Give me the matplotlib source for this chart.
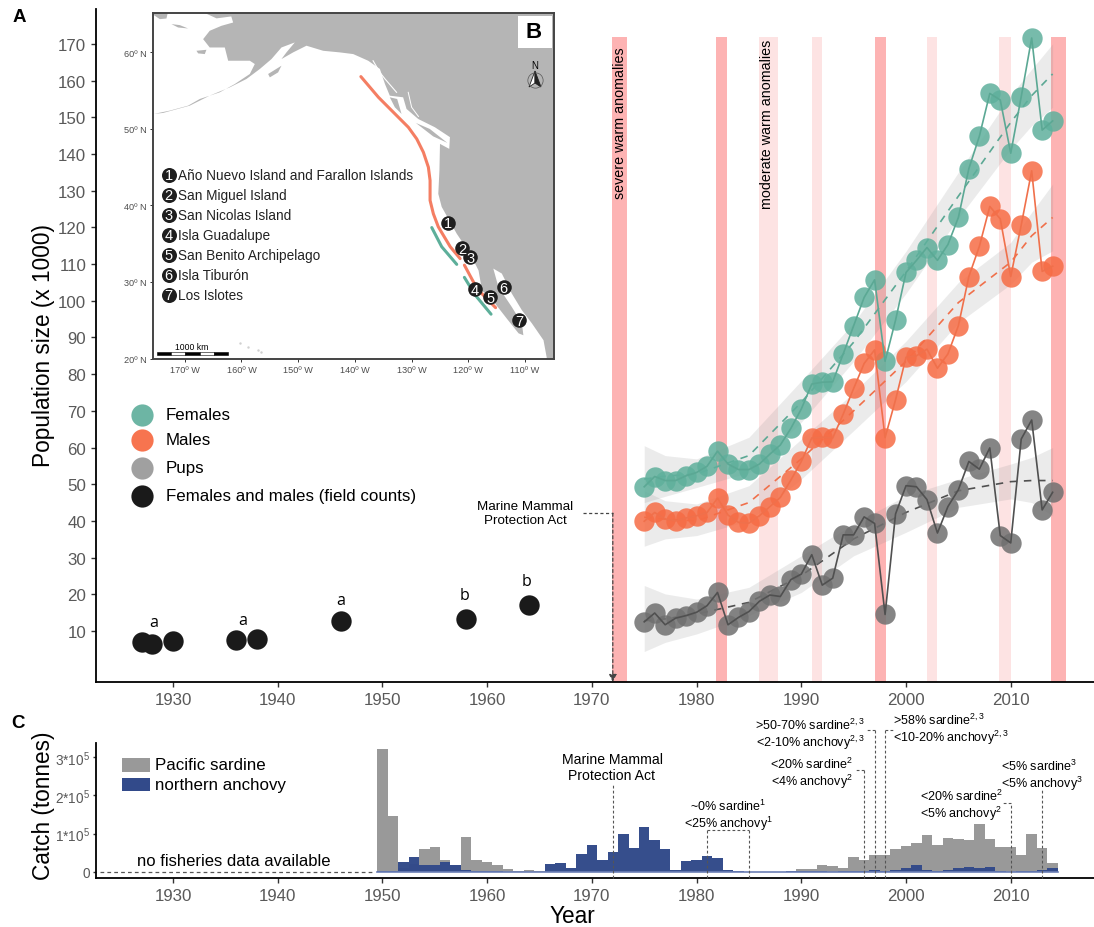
import matplotlib
matplotlib.use('Agg')
import matplotlib.pyplot as plt
from matplotlib.patches import Polygon, Rectangle

plt.rcParams['font.family'] = ['Liberation Sans', 'DejaVu Sans']
plt.rcParams['mathtext.fontset'] = 'custom'
plt.rcParams['mathtext.rm'] = 'Liberation Sans'
plt.rcParams['mathtext.default'] = 'regular'

# population series, x 1000
years = list(range(1975, 2015))
females = [49.3, 52.1, 51, 51, 52.3, 53.2, 54.9, 59, 55.5, 54, 54, 55.5, 58.2, 60.7, 65.2, 70.5, 77.3, 77.8, 77.9, 85.5,
           93.2, 100.9, 105.7, 83.5, 94.7, 107.7, 111, 114.5, 111, 115.3, 122.7, 136, 144.8, 156.5, 154.7, 140.2, 155.6, 171.6, 146.5, 149]
males = [39.9, 42.3, 40.5, 40, 40.8, 41.4, 42.3, 46.2, 41.6, 39.6, 39.4, 41.4, 43.9, 46.4, 51.1, 56.2, 62.6, 62.8, 62.6, 69.1,
         76.1, 82.9, 86.6, 62.7, 73, 84.6, 85, 86.8, 81.6, 85.5, 93.2, 106.6, 114.8, 125.7, 122.3, 106.6, 120.6, 135.4, 108, 109.4]
pups = [12.5, 14.9, 11.7, 13.5, 14.2, 15.1, 16.9, 20.5, 11.7, 13.7, 15.3, 18.1, 19.8, 19.4, 24, 25.5, 30.8, 22.5, 24.4, 36.2,
        36.2, 41.1, 39.3, 14.5, 41.9, 49.6, 49.3, 45.8, 36.7, 43.9, 48.5, 56.2, 54.1, 59.9, 36, 34, 62.3, 67.5, 43, 47.8]

field_years = [1927, 1928, 1930, 1936, 1938, 1946, 1958, 1964]
field_counts = [7, 6.5, 7.3, 7.5, 7.8, 12.7, 13.3, 17.1]
letter_years = [1928.2, 1936.7, 1946, 1957.8, 1963.8]
letter_vals = [12.5, 13, 18.4, 19.8, 23.6]
letters = ['a', 'a', 'a', 'b', 'b']

# smoothed trends and their bands
trend_years = [1975, 1977, 1980, 1985, 1990, 1995, 2000, 2005, 2010, 2012, 2014]
fem_trend = [51.4, 52.2, 52.8, 57.8, 72.3, 88.7, 108, 128.5, 148.6, 155.9, 161.8]
fem_hi = [60.5, 57.8, 56.9, 62.8, 78.2, 94, 113.5, 135, 156, 163.1, 170]
fem_lo = [45, 46.7, 49.1, 53.2, 66.9, 83.5, 102, 122.5, 141.3, 147.7, 152.7]
male_trend = [41, 40.5, 40, 45, 56.9, 70, 83.5, 99.5, 110.5, 117.7, 122.7]
male_hi = [48.2, 45.5, 44.6, 49.6, 62.3, 75, 89, 105, 115.9, 124.1, 131.8]
male_lo = [33.1, 35.1, 36, 40.1, 51.4, 64.6, 78, 94, 104.5, 110.5, 113.6]
pup_trend = [12.8, 13.3, 14.6, 17.8, 25.1, 35.1, 42.3, 48.2, 50.7, 51, 51]
pup_hi = [22.4, 20.1, 18.7, 21.9, 30.5, 39.2, 46.9, 51.4, 55.5, 57.3, 60]
pup_lo = [4.4, 6.9, 9.2, 14.2, 20.5, 30.5, 36.9, 43.7, 46, 45, 41.4]

severe = [(1971.9, 1973.35), (1981.9, 1982.9), (1997.0, 1998.1), (2013.8, 2015.3)]
moderate = [(1985.95, 1987.8), (1991, 1992), (2002, 2003), (2008.9, 2010)]

# catch, in units of 10^5 tonnes
catch_years = list(range(1950, 2015))
sardine = [3.2, 1.47, .1, .2, .6, .64, .3, .19, .92, .32, .25, .19, .07, .03, .05, .02,
           .005, .005, .005, .005, .005, .005, .005, .005, .005, .005, .005, .005, .005, .005, .005, .005, .005, .005, .005, .005, .005, .005, .005, .01,
           .07, .09, .17, .15, .11, .39, .32, .43, .43, .6, .67, .75, .96, .71, .88, .85, .83, 1.25, .86, .65, .65, .45, .98, .63, .23]
anchovy = [.02, .02, .25, .38, .19, .19, .25, .19, .05, .03, .02, .03, .005, .01, .01, .01,
           .21, .24, .1, .47, .69, .31, .53, .99, .63, 1.17, .82, .59, .04, .28, .3, .41, .36, .04, .03, .01, .005, .005, .005, .02,
           .03, .03, .03, .01, .02, .02, .02, .04, .02, .05, .11, .19, .05, .02, .06, .11, .13, .1, .13, .03, .01, .02, .02, .05, .1]

# map, lon / lat
land_lon = [-167.06, -164.4, -161.8, -161.47, -163.53, -165.6, -166.76, -165.6, -162.94, -162.35, -158.53, -157.65, -158.53, -161.18, -163.83, -167.35,
            -169.41, -172.64, -175.46, -173.82, -169.12, -165.59, -162.06, -159.12, -156.77, -154.71, -152.95, -150.6, -152.07, -152.95, -150.89, -148.54,
            -145.6, -142.66, -140.3, -137.66, -135.6, -134.7, -133.85, -131.5, -130.9, -128.84, -125.9, -123.25, -123.37, -125, -125.1, -125.3, -124.7,
            -122.05, -119.7, -118.2, -117.6, -115.3, -113.2, -111.15, -110.3, -110.55, -112.35, -114.7, -115.6,
            -114.1, -112.35, -110.55, -108.8, -106.75, -106.15, -104, -104]
land_lat = [65.3, 64.4, 64.65, 63.86, 63.43, 62.78, 61.69, 60.6, 60.6, 58.87, 58.87, 58.44, 57.14, 55.83, 54.75, 53.88,
            53.01, 52.36, 51.93, 52.06, 53.01, 54.32, 55.4, 56.49, 57.79, 59.09, 60.6, 61.26, 59.96, 59.09, 59.96, 60.83,
            60.17, 59.96, 59.74, 58.87, 57.8, 55.83, 54.31, 54.1, 52.58, 51.27, 50.19, 48.9, 47.37, 48.02, 44.55, 41.5, 39.8,
            36.3, 33.7, 31.5, 28.9, 27.2, 25.2, 23.3, 23.05, 24.6, 26.75, 29.35, 31.75,
            31.1, 28.5, 26.3, 24.6, 22.4, 20, 19.5, 65.3]
siberia_lon = [-175.6, -172.94, -173.23, -174.4, -175.6]
siberia_lat = [65.3, 65.3, 64.38, 64.3, 64.9]
lawrence_lon = [-172.35, -170.88, -169.41, -171.17]
lawrence_lat = [63.65, 63.52, 63.08, 63.21]
nunivak_lon = [-167.94, -166.18, -166.47, -167.64]
nunivak_lat = [60.17, 60.3, 59.74, 59.83]
kodiak_lon = [-155.3, -152.95, -153.54, -155]
kodiak_lat = [57.14, 58.22, 57.35, 56.7]
haida_lon = [-133.85, -132.55, -131.78, -132.96]
haida_lat = [54.1, 53.88, 51.93, 52.8]
vanc_lon = [-129.25, -126.8, -123.7, -126.2]
vanc_lat = [50.75, 49.97, 48.15, 49]
fjord_lon = [-136.8, -135.6, -134.7, -132.66]
fjord_lat = [58.87, 57.35, 56.5, 54.75]
fjord2_lon = [-130.6, -130, -128.8]
fjord2_lat = [54.75, 52.8, 51.6]
hawaii_lon = [-160.2, -158.8, -157.0, -156.5, -155.6]
hawaii_lat = [22.1, 21.5, 21.1, 20.8, 19.7]

north_lon = [-138.95, -135.85, -132.35, -130.58, -129.1, -127.93, -127.05, -126.75, -126.75, -126.17, -125.3, -123.2, -121.45]
north_lat = [56.8, 54.1, 51.5, 50.19, 48.67, 46.93, 44.98, 43.25, 40.65, 38.9, 37.2, 34.6, 33.05]
south_lon = [-120.7, -119.1, -117.65, -115.2]
south_lat = [32.2, 30, 28.5, 26.65]
green1_lon = [-126.45, -124.7, -122.05]
green1_lat = [37.1, 34.6, 32.3]
green2_lon = [-120.7, -118.8, -116]
green2_lat = [30.6, 28.3, 25.8]
site_lon = [-123.65, -121.15, -119.7, -118.9, -116.15, -113.75, -111.05]
site_lat = [37.75, 34.45, 33.2, 29.1, 28.05, 29.35, 25.0]
site_names = ['Año Nuevo Island and Farallon Islands', 'San Miguel Island', 'San Nicolas Island', 'Isla Guadalupe',
              'San Benito Archipelago', 'Isla Tiburón', 'Los Islotes']

W, H = 1094, 928
green, orange, grey = '#5FB09C', '#F66C45', '#707070'
tick_col = '#595959'


def px(x, y):
    return x / W, 1 - y / H


def make_axes(l, t, r, b):
    return fig.add_axes([l / W, 1 - b / H, (r - l) / W, (b - t) / H])


fig = plt.figure(figsize=(W / 100, H / 100), dpi=100)

# Panel A
ax = make_axes(96, 10, 1094, 683)
ax.set_xlim(1922.65, 2017.95)
ax.set_ylim(-3.9, 179.5)
for a, b in severe:
    ax.fill_between([a, b], -3.9, 171.9, color='#FDB3B3', lw=0, zorder=1)
for a, b in moderate:
    ax.fill_between([a, b], -3.9, 171.9, color='#FDE3E3', lw=0, zorder=1)

for vals, trend, hi, lo, col, line_col in [(females, fem_trend, fem_hi, fem_lo, green, '#5BA894'),
                                           (males, male_trend, male_hi, male_lo, orange, '#F0704B'),
                                           (pups, pup_trend, pup_hi, pup_lo, grey, '#505050')]:
    ax.fill_between(trend_years, lo, hi, color='#8C8C8C', alpha=0.17, lw=0, zorder=2)
    ax.plot(trend_years, trend, color=line_col, lw=1.2, dashes=(4.5, 4), zorder=3)
    ax.scatter(years, vals, s=215, color=col, alpha=0.85, linewidths=0, zorder=4)
    ax.plot(years, vals, color=line_col, lw=1.2, zorder=5)

ax.scatter(field_years, field_counts, s=215, color='#1A1A1A', linewidths=0, zorder=4)
for yr, val, letter in zip(letter_years, letter_vals, letters):
    ax.text(yr, val, letter, ha='center', va='center', fontsize=11.5, family=['Open Sans'], color='black')

ax.set_xticks(range(1930, 2011, 10))
ax.set_yticks(range(10, 171, 10))
ax.tick_params(axis='both', labelsize=12.2, labelcolor=tick_col, color='#333333', length=3.5, width=1)
for s in ['top', 'right']:
    ax.spines[s].set_visible(False)
for s in ['left', 'bottom']:
    ax.spines[s].set_linewidth(1.3)

fig.text(*px(44, 346), 'Population size (x 1000)', rotation=90, ha='center', va='center', fontsize=16.3)
fig.text(*px(620, 123), 'severe warm anomalies', rotation=90, ha='center', va='center', fontsize=10.3)
fig.text(*px(767, 124), 'moderate warm anomalies', rotation=90, ha='center', va='center', fontsize=10.3)

# Marine Mammal Protection Act arrow
ax.plot([1969.2, 1972], [42.1, 42.1], color='#444444', lw=0.9, ls=(0, (2.5, 2)), zorder=6)
ax.annotate('', xy=(1972, -3.9), xytext=(1972, 42.1),
            arrowprops=dict(arrowstyle='-|>', color='#444444', lw=0.9, ls=(0, (2.5, 2)), mutation_scale=11, shrinkA=0, shrinkB=0))
fig.text(*px(525, 514), 'Marine Mammal\nProtection Act', ha='center', va='center', fontsize=9.6, linespacing=1.3)

# legend
for yy, col, lab in [(416, '#6DB5A4', 'Females'), (441, '#F7744F', 'Males'), (469, '#A0A0A0', 'Pups'),
                     (497, '#1A1A1A', 'Females and males (field counts)')]:
    fig.add_artist(plt.Line2D([142 / W], [1 - yy / H], marker='o', ms=16, color=col, mew=0, ls='none'))
    fig.text(*px(166, yy), lab, va='center', fontsize=12.2)

# Panel C
axc = make_axes(96, 744, 1094, 879)
axc.set_xlim(1922.65, 2017.95)
axc.set_ylim(-0.157, 3.36)
axc.bar(catch_years, sardine, width=1, color='#999999', lw=0, zorder=2, clip_on=False)
axc.bar(catch_years, anchovy, width=1, color='#324A8A', lw=0, alpha=0.98, zorder=3)
axc.plot([1949.5, 2014.5], [0, 0], color='#6C7FB5', lw=1.2, zorder=4)
axc.plot([1923, 1949], [0, 0], color='#555555', lw=0.9, ls=(0, (3, 2.5)))
axc.set_xticks(range(1930, 2011, 10))
axc.set_yticks([0, 1, 2, 3])
axc.set_yticklabels(['0', '1*10$^5$', '2*10$^5$', '3*10$^5$'])
axc.tick_params(axis='x', labelsize=12.2, labelcolor=tick_col, color='#333333', length=3.5, width=1)
axc.tick_params(axis='y', labelsize=9.8, labelcolor=tick_col, color='#333333', length=2.5, width=1, pad=2)
for s in ['top', 'right']:
    axc.spines[s].set_visible(False)
for s in ['left', 'bottom']:
    axc.spines[s].set_linewidth(1.3)
fig.text(*px(572, 917), 'Year', ha='center', va='center', fontsize=16.3)
fig.text(*px(44, 806), 'Catch (tonnes)', rotation=90, ha='center', va='center', fontsize=16.3)
fig.text(*px(233.5, 862), 'no fisheries data available', fontsize=12, va='center', ha='center')

fig.add_artist(Rectangle((122 / W, 1 - 773 / H), 28 / W, 14 / H, transform=fig.transFigure, color='#999999', lw=0))
fig.add_artist(Rectangle((122 / W, 1 - 792 / H), 28 / W, 13 / H, transform=fig.transFigure, color='#324A8A', lw=0))
fig.text(*px(155, 765), 'Pacific sardine', va='center', fontsize=12.2)
fig.text(*px(155, 786), 'northern anchovy', va='center', fontsize=12.2)

# catch composition notes: leader year, leader top and label
dash = dict(color='#555555', lw=0.8, ls=(0, (2.5, 2)), clip_on=False)
tr = axc.get_xaxis_transform()


def leader(yr, top_y, to_x=None):
    # vertical dashed line from the axis up to pixel row top_y, with optional horizontal piece to pixel column to_x
    top = 1 - (top_y - 744) / (879 - 744)
    axc.plot([yr, yr], [0, top], transform=tr, zorder=6, **dash)
    if to_x is not None:
        xn = 1980 + (to_x - 696.7) / 10.47
        axc.plot([yr, xn], [top, top], transform=tr, zorder=6, **dash)


fs = 9
fig.text(*px(612, 768), 'Marine Mammal\nProtection Act', ha='center', va='center', fontsize=10.1, linespacing=1.12)
leader(1972, 785)
leader(1981, 831, 749)
leader(1985, 831)
fig.text(*px(728, 816), '~0% sardine$^1$\n<25% anchovy$^1$', ha='center', va='center', fontsize=fs, linespacing=1.1)
leader(1997, 731, 866)
fig.text(*px(865, 735), '>50-70% sardine$^{2,3}$\n<2-10% anchovy$^{2,3}$', ha='right', va='center', fontsize=fs, linespacing=1.1)
leader(1998, 731, 895)
fig.text(*px(893, 730), '>58% sardine$^{2,3}$\n<10-20% anchovy$^{2,3}$', ha='left', va='center', fontsize=fs, linespacing=1.1)
leader(1996, 771, 854)
fig.text(*px(853, 774), '<20% sardine$^2$\n<4% anchovy$^2$', ha='right', va='center', fontsize=fs, linespacing=1.1)
leader(2010, 804, 1003)
fig.text(*px(920, 806), '<20% sardine$^2$\n<5% anchovy$^2$', ha='left', va='center', fontsize=fs, linespacing=1.1)
leader(2013, 790)
fig.text(*px(1001, 776), '<5% sardine$^3$\n<5% anchovy$^3$', ha='left', va='center', fontsize=fs, linespacing=1.1)

# Panel B, map inset
m = make_axes(153, 14, 554, 360)
m.set_xlim(-175.6, -104.9)
m.set_ylim(19.95, 65.1)
m.set_facecolor('white')
land = '#B5B5B5'
for lons, lats in [(land_lon, land_lat), (siberia_lon, siberia_lat), (lawrence_lon, lawrence_lat),
                   (nunivak_lon, nunivak_lat), (kodiak_lon, kodiak_lat), (haida_lon, haida_lat), (vanc_lon, vanc_lat)]:
    m.add_patch(Polygon(list(zip(lons, lats)), closed=True, color=land, lw=0))
m.plot(fjord_lon, fjord_lat, color='white', lw=0.8)
m.plot(fjord2_lon, fjord2_lat, color='white', lw=0.7)
m.scatter(hawaii_lon, hawaii_lat, s=3, color='#D0D0D0', lw=0)
for lons, lats, col in [(north_lon, north_lat, '#F47E63'), (south_lon, south_lat, '#F47E63'),
                        (green1_lon, green1_lat, '#5DAF9A'), (green2_lon, green2_lat, '#5DAF9A')]:
    m.plot(lons, lats, color=col, lw=2.2, solid_capstyle='round', solid_joinstyle='round')
m.set_xticks(range(-170, -109, 10))
m.set_xticklabels([f'{abs(v)}º W' for v in range(-170, -109, 10)])
m.set_yticks(range(20, 61, 10))
m.set_yticklabels([f'{v}º N' for v in range(20, 61, 10)])
m.tick_params(labelsize=6.6, labelcolor='#4D4D4D', color='#333333', length=2.5, width=0.7, pad=2)
for s in m.spines.values():
    s.set_linewidth(1.4)
    s.set_color('#444444')

for i, (lo, la) in enumerate(zip(site_lon, site_lat)):
    m.scatter([lo], [la], s=110, color='#1E1E1E', lw=0, zorder=5)
    m.text(lo, la - 0.1, str(i + 1), color='white', fontsize=10.5, ha='center', va='center', zorder=6)
for i, (yy, name) in enumerate(zip([176, 196, 216, 236, 256, 276, 296], site_names)):
    fig.add_artist(plt.Line2D([168.7 / W], [1 - yy / H], marker='o', ms=10.8, color='#1E1E1E', mew=0, ls='none'))
    fig.text(*px(168.7, yy), str(i + 1), color='white', fontsize=10.5, ha='center', va='center')
    fig.text(*px(178, yy), name, fontsize=9.8, color='#222222', va='center')

# scale bar
for i in range(5):
    fig.add_artist(Rectangle(((157 + i * 14.2) / W, 1 - 356 / H), 14.2 / W, 3.5 / H, transform=fig.transFigure,
                             facecolor='black' if i % 2 == 0 else 'white', edgecolor='black', lw=0.4))
fig.text(*px(192, 348), '1000 km', fontsize=6.2, ha='center', va='center')

# B label and north arrow
fig.add_artist(Rectangle((518 / W, 1 - 49 / H), 34 / W, 32 / H, transform=fig.transFigure, color='white', lw=0))
fig.text(*px(534, 33), 'B', fontsize=16, fontweight='bold', ha='center', va='center')
fig.text(*px(535, 66), 'N', fontsize=7, ha='center', va='center')
fig.add_artist(Polygon([(535 / W, 1 - 72 / H), (529 / W, 1 - 88 / H), (535 / W, 1 - 84 / H)], closed=True,
                       transform=fig.transFigure, facecolor='white', edgecolor='#222222', lw=0.6))
fig.add_artist(Polygon([(535 / W, 1 - 72 / H), (541 / W, 1 - 88 / H), (535 / W, 1 - 84 / H)], closed=True,
                       transform=fig.transFigure, facecolor='#222222', edgecolor='#222222', lw=0.6))
fig.add_artist(plt.Line2D([535 / W], [1 - 81 / H], marker='o', ms=11, mfc='none', mec='#555555', mew=0.5, ls='none'))

# Panel letters
fig.text(*px(19, 18), 'A', fontsize=13.5, fontweight='bold', ha='center', va='center')
fig.text(*px(18, 724), 'C', fontsize=13.5, fontweight='bold', ha='center', va='center')

fig.savefig('out.png', dpi=100)
